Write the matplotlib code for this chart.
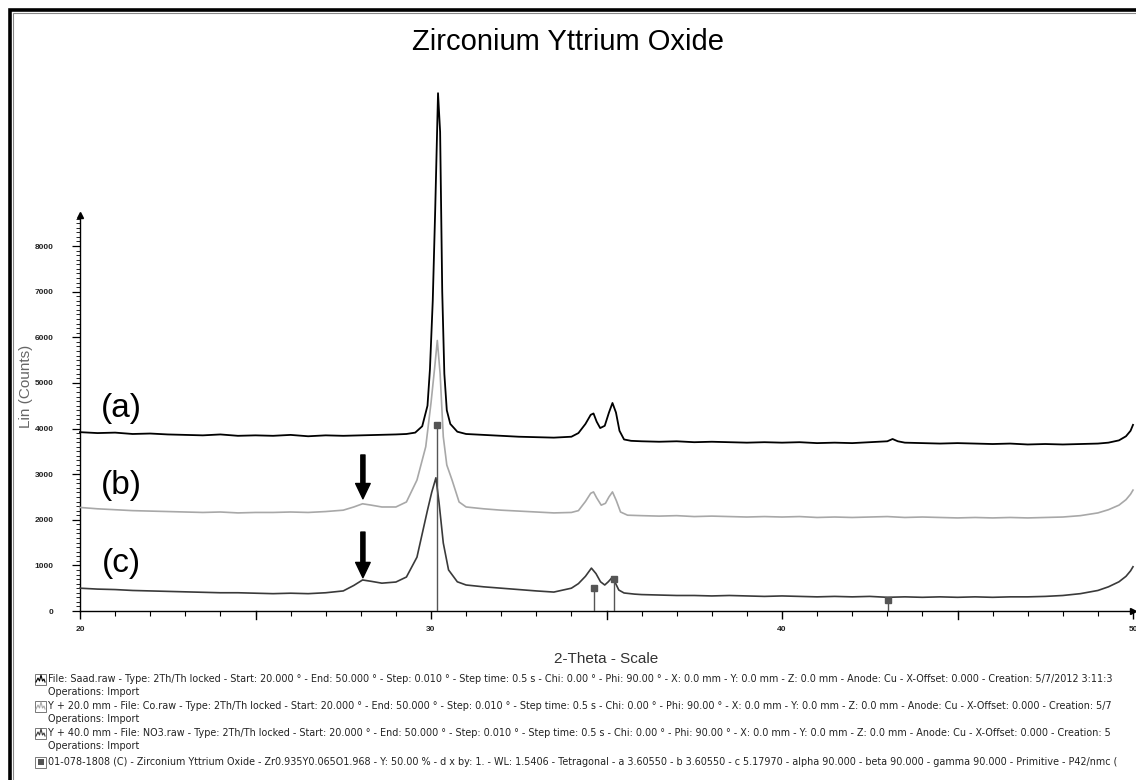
import matplotlib.pyplot as plt
from matplotlib.patches import Rectangle
from matplotlib.lines import Line2D

plt.rcParams['font.family'] = ['Liberation Sans', 'DejaVu Sans']

# pattern (a): File Saad.raw
tt_a = [20.0, 20.5, 21.0, 21.5, 22.0, 22.5, 23.0, 23.5, 24.0, 24.5, 25.0, 25.5, 26.0,
        26.5, 27.0, 27.5, 28.0, 28.5, 29.0, 29.3, 29.55, 29.75, 29.9, 29.97, 30.05,
        30.12, 30.2, 30.26, 30.32, 30.38, 30.45, 30.55, 30.75, 31.0, 31.5, 32.0, 32.5,
        33.0, 33.5, 34.0, 34.2, 34.4, 34.55, 34.63, 34.72, 34.82, 34.95, 35.07, 35.17,
        35.27, 35.37, 35.5, 35.7, 36.0, 36.5, 37.0, 37.5, 38.0, 38.5, 39.0, 39.5, 40.0,
        40.5, 41.0, 41.5, 42.0, 42.5, 43.0, 43.15, 43.3, 43.5, 44.0, 44.5, 45.0, 45.5,
        46.0, 46.5, 47.0, 47.5, 48.0, 48.5, 49.0, 49.3, 49.6, 49.8, 49.93, 50.0]
cnt_a = [3920, 3900, 3910, 3880, 3890, 3870, 3860, 3850, 3870, 3840, 3850, 3840, 3860,
         3830, 3850, 3840, 3850, 3860, 3870, 3880, 3910, 4050, 4500, 5300, 6800,
         8800, 11350, 10500, 7000, 5200, 4400, 4100, 3930, 3880, 3860, 3840, 3820,
         3810, 3800, 3820, 3900, 4100, 4300, 4330, 4150, 4010, 4060, 4350, 4560,
         4350, 3950, 3760, 3730, 3720, 3710, 3720, 3700, 3710, 3700, 3690, 3700, 3690,
         3700, 3680, 3690, 3680, 3700, 3720, 3770, 3720, 3690, 3680, 3670, 3680, 3670,
         3660, 3670, 3650, 3660, 3650, 3660, 3670, 3690, 3740, 3830, 3950, 4080]

# pattern (b): Y + 20.0 mm - File Co.raw
tt_b = [20.0, 20.5, 21.0, 21.5, 22.0, 22.5, 23.0, 23.5, 24.0, 24.5, 25.0, 25.5, 26.0,
        26.5, 27.0, 27.5, 27.8, 28.05, 28.3, 28.6, 29.0, 29.3, 29.6, 29.85, 30.0,
        30.1, 30.18, 30.26, 30.35, 30.45, 30.6, 30.8, 31.0, 31.5, 32.0, 32.5, 33.0,
        33.5, 34.0, 34.2, 34.4, 34.55, 34.63, 34.72, 34.85, 34.97, 35.07, 35.17, 35.28,
        35.4, 35.6, 36.0, 36.5, 37.0, 37.5, 38.0, 38.5, 39.0, 39.5, 40.0, 40.5, 41.0,
        41.5, 42.0, 42.5, 43.0, 43.5, 44.0, 44.5, 45.0, 45.5, 46.0, 46.5, 47.0, 47.5,
        48.0, 48.5, 49.0, 49.3, 49.6, 49.8, 49.93, 50.0]
cnt_b = [2270, 2240, 2220, 2200, 2190, 2180, 2170, 2160, 2170, 2150, 2160, 2160, 2170,
         2160, 2180, 2210, 2280, 2350, 2320, 2280, 2280, 2390, 2870, 3600, 4560,
         5300, 5930, 5200, 3820, 3200, 2870, 2390, 2280, 2240, 2210, 2190, 2170,
         2150, 2160, 2200, 2400, 2580, 2610, 2480, 2320, 2360, 2500, 2610, 2420,
         2170, 2100, 2090, 2080, 2090, 2070, 2080, 2070, 2060, 2070, 2060, 2070, 2050,
         2060, 2050, 2060, 2070, 2050, 2060, 2050, 2040, 2050, 2040, 2050, 2040, 2050,
         2060, 2090, 2150, 2220, 2320, 2440, 2560, 2650]

# pattern (c): Y + 40.0 mm - File NO3.raw
tt_c = [20.0, 20.5, 21.0, 21.5, 22.0, 22.5, 23.0, 23.5, 24.0, 24.5, 25.0, 25.5, 26.0,
        26.5, 27.0, 27.5, 27.8, 28.05, 28.3, 28.6, 29.0, 29.3, 29.6, 29.9, 30.02,
        30.14, 30.23, 30.35, 30.5, 30.75, 31.0, 31.5, 32.0, 32.5, 33.0, 33.5, 34.0,
        34.2, 34.4, 34.57, 34.7, 34.83, 34.95, 35.05, 35.15, 35.25, 35.35, 35.5, 35.8,
        36.0, 36.5, 37.0, 37.5, 38.0, 38.5, 39.0, 39.5, 40.0, 40.5, 41.0, 41.5, 42.0,
        42.5, 43.0, 43.5, 44.0, 44.5, 45.0, 45.5, 46.0, 46.5, 47.0, 47.5, 48.0, 48.5,
        49.0, 49.3, 49.6, 49.8, 49.93, 50.0]
cnt_c = [500, 480, 470, 450, 440, 430, 420, 410, 400, 400, 390, 380, 390,
         380, 400, 440, 560, 680, 650, 610, 635, 745, 1180, 2210, 2600,
         2920, 2370, 1490, 900, 640, 570, 530, 500, 470, 440, 415, 500,
         600, 760, 940, 820, 640, 570, 640, 725, 620, 460, 395, 370,
         360, 350, 340, 340, 330, 340, 330, 320, 330, 320, 310, 320, 310,
         320, 300, 310, 300, 310, 300, 310, 300, 310, 310, 320, 340, 380,
         450, 530, 640, 760, 880, 970]

# reference pattern 01-078-1808 (stick positions and heights)
ref_pos = [30.17, 34.63, 35.2, 43.02]
ref_hgt = [4080, 500, 700, 240]

x_ticks = [20, 30, 40, 50]
y_ticks = [0, 1000, 2000, 3000, 4000, 5000, 6000, 7000, 8000]

# legend text as far as it is visible in the picture
legend_rows = [
    ('File: Saad.raw - Type: 2Th/Th locked - Start: 20.000 \u00b0 - End: 50.000 \u00b0 - Step: 0.010 \u00b0 - '
     'Step time: 0.5 s - Chi: 0.00 \u00b0 - Phi: 90.00 \u00b0 - X: 0.0 mm - Y: 0.0 mm - Z: 0.0 mm - '
     'Anode: Cu - X-Offset: 0.000 - Creation: 5/7/2012 3:11:3', 'black'),
    ('Y + 20.0 mm - File: Co.raw - Type: 2Th/Th locked - Start: 20.000 \u00b0 - End: 50.000 \u00b0 - '
     'Step: 0.010 \u00b0 - Step time: 0.5 s - Chi: 0.00 \u00b0 - Phi: 90.00 \u00b0 - X: 0.0 mm - Y: 0.0 mm - '
     'Z: 0.0 mm - Anode: Cu - X-Offset: 0.000 - Creation: 5/7', '#aaaaaa'),
    ('Y + 40.0 mm - File: NO3.raw - Type: 2Th/Th locked - Start: 20.000 \u00b0 - End: 50.000 \u00b0 - '
     'Step: 0.010 \u00b0 - Step time: 0.5 s - Chi: 0.00 \u00b0 - Phi: 90.00 \u00b0 - X: 0.0 mm - Y: 0.0 mm - '
     'Z: 0.0 mm - Anode: Cu - X-Offset: 0.000 - Creation: 5', '#3a3a3a'),
]
ref_row = ('01-078-1808 (C) - Zirconium Yttrium Oxide - Zr0.935Y0.065O1.968 - Y: 50.00 % - d x by: 1. - '
           'WL: 1.5406 - Tetragonal - a 3.60550 - b 3.60550 - c 5.17970 - alpha 90.000 - beta 90.000 - '
           'gamma 90.000 - Primitive - P42/nmc (')

W, H = 1136, 780
fig = plt.figure(figsize=(W / 100, H / 100), dpi=100)
ax = fig.add_axes([80 / W, (H - 611) / H, 1053 / W, 396 / H])

ax.plot(tt_b, cnt_b, color='#a8a8a8', lw=1.2, clip_on=False, zorder=3)
ax.plot(tt_c, cnt_c, color='#3a3a3a', lw=1.2, clip_on=False, zorder=3)
ax.plot(tt_a, cnt_a, color='black', lw=1.3, clip_on=False, zorder=4)

ax.vlines(ref_pos, 0, ref_hgt, color='#555555', lw=1.0, zorder=5)
ax.plot(ref_pos, ref_hgt, ls='none', marker='s', ms=4.5, color='#555555', zorder=5)

ax.set_xlim(20, 50)
ax.set_ylim(0, 8680)
for s in ['top', 'right']:
    ax.spines[s].set_visible(False)
ax.spines['left'].set_linewidth(1.0)
ax.spines['bottom'].set_linewidth(1.0)

ax.set_xticks(x_ticks)
ax.set_xticklabels([str(v) for v in x_ticks])
ax.set_xticks(range(20, 51, 1), minor=True)
ax.set_yticks(y_ticks)
ax.set_yticklabels([str(v) for v in y_ticks])
ax.set_yticks(range(0, 8601, 100), minor=True)
ax.tick_params(axis='x', which='major', length=6, width=1, pad=5, labelsize=6, labelcolor='#222222')
ax.tick_params(axis='x', which='minor', length=3.5, width=0.8)
ax.tick_params(axis='y', which='major', length=6, width=0.9, pad=13, labelsize=6, labelcolor='#222222')
ax.tick_params(axis='y', which='minor', length=3, width=0.6)
for lab in ax.get_xticklabels() + ax.get_yticklabels():
    lab.set_fontweight('bold')

# longer marks every 5 degrees
for v in [25, 35, 45]:
    ax.plot([v, v], [0, -8 / 396 * 8680], color='black', lw=1, clip_on=False)

ax.plot(20, 8680, marker='^', ms=4, color='black', clip_on=False)
ax.plot(50, 0, marker='>', ms=4, color='black', clip_on=False)

ax.set_xlabel('2-Theta - Scale', fontsize=11, color='#333333')
ax.xaxis.set_label_coords(0.5, -(652 - 611) / 396)
ax.set_ylabel('Lin (Counts)', fontsize=11, color='#666666')
ax.yaxis.set_label_coords(-(80 - 33) / 1053, (611 - 386) / 396)

for lab, yv in [('(a)', 4430), ('(b)', 2740), ('(c)', 1050)]:
    ax.text(21.17, yv, lab, fontsize=24, ha='center', va='center')

for y0, y1 in [(3420, 2460), (1730, 730)]:
    ax.annotate('', xy=(28.06, y1), xytext=(28.06, y0),
                arrowprops=dict(width=3, headwidth=10.5, headlength=11, color='black', shrink=0))

fig.text(0.5, (H - 42) / H, 'Zirconium Yttrium Oxide', fontsize=21, ha='center', va='center')

# outer frame
fig.add_artist(Rectangle((10 / W, -0.1), 2, (H - 10) / H + 0.1, transform=fig.transFigure,
                         fill=False, edgecolor='black', lw=2.6))
fig.add_artist(Rectangle((12.5 / W, -0.1), 2, (H - 12.5) / H + 0.1, transform=fig.transFigure,
                         fill=False, edgecolor='#888888', lw=0.8))

# legend block
def icon(yc, color, filled=False):
    x0, s = 35, 11
    fig.add_artist(Rectangle((x0 / W, (H - yc - s / 2) / H), s / W, s / H, transform=fig.transFigure,
                             fill=False, edgecolor='#777777', lw=0.7))
    if filled:
        fig.add_artist(Rectangle(((x0 + 2.5) / W, (H - yc - 3) / H), 6 / W, 6 / H,
                                 transform=fig.transFigure, color='#555555', lw=0))
    else:
        xs = [x0 + 1, x0 + 3, x0 + 4.5, x0 + 6, x0 + 7.5, x0 + 9, x0 + 10]
        ys = [yc + 3, yc - 1, yc + 2, yc - 4, yc + 2, yc, yc + 3]
        fig.add_artist(Line2D([v / W for v in xs], [(H - v) / H for v in ys],
                              transform=fig.transFigure, color=color, lw=0.8))

fs = 6.9
row_y = [679, 706, 733]
for (txt, col), yc in zip(legend_rows, row_y):
    icon(yc, col)
    fig.text(48 / W, (H - yc) / H, txt, fontsize=fs, va='center', ha='left',
             family='DejaVu Sans', color='#222222')
    fig.text(48 / W, (H - yc - 13) / H, 'Operations: Import', fontsize=fs, va='center', ha='left',
             family='DejaVu Sans', color='#222222')
icon(762, '#555555', filled=True)
fig.text(48 / W, (H - 762) / H, ref_row, fontsize=fs, va='center', ha='left',
         family='DejaVu Sans', color='#222222')

fig.savefig('out.png', dpi=100)
